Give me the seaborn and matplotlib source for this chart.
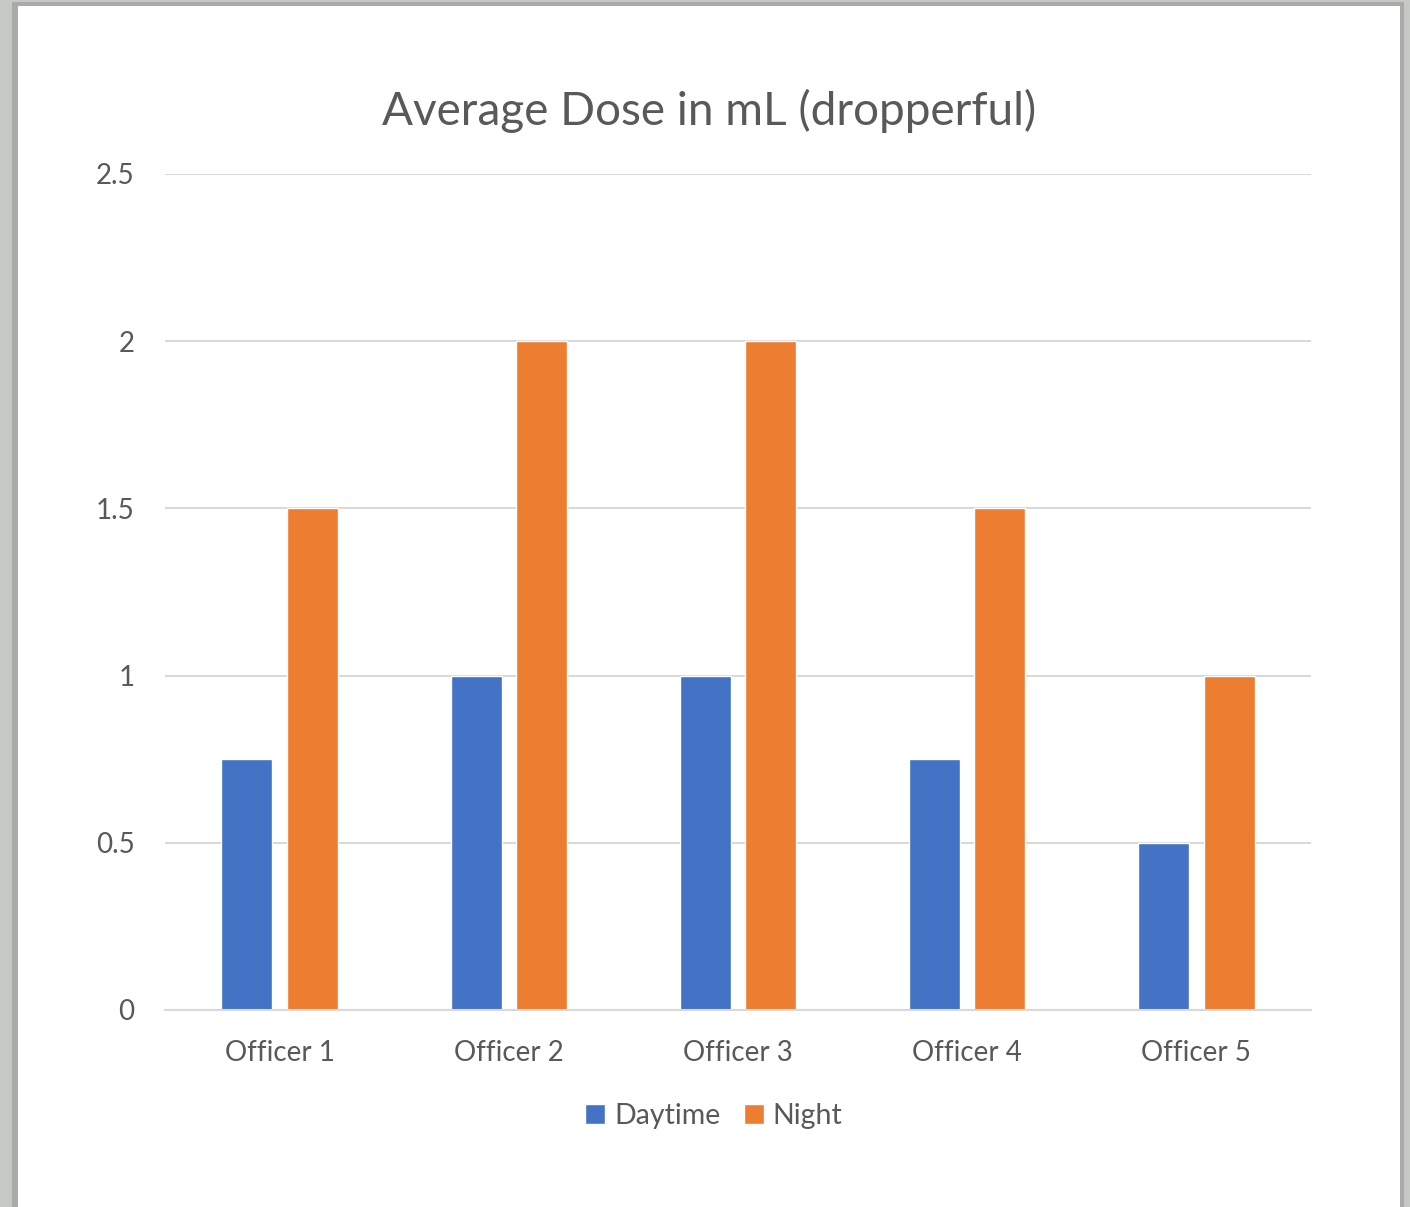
import numpy as np
import pandas as pd
import seaborn as sns
import matplotlib.pyplot as plt
from matplotlib.patches import Rectangle

officers = ['Officer 1', 'Officer 2', 'Officer 3', 'Officer 4', 'Officer 5']
daytime = [0.75, 1.0, 1.0, 0.75, 0.5]
night = [1.5, 2.0, 2.0, 1.5, 1.0]
series = ['Daytime', 'Night']

df = pd.DataFrame({
    'Officer': officers * 2,
    'Dose': daytime + night,
    'Time': ['Daytime'] * 5 + ['Night'] * 5,
})

sns.set_style('white')
plt.rcParams['font.family'] = ['Lato', 'DejaVu Sans']
text_col = '#595959'

fig = plt.figure(figsize=(14.1, 12.07), dpi=100)
fig.patch.set_facecolor('#c6c8c6')
# white chart sheet with soft shadow edges
fig.patches.append(Rectangle((12 / 1410, 0), 1392 / 1410, 1 - 2 / 1207,
                             transform=fig.transFigure, facecolor='#a9aba9',
                             edgecolor='none', zorder=-2))
fig.patches.append(Rectangle((18 / 1410, 0), 1382 / 1410, 1 - 6 / 1207,
                             transform=fig.transFigure, facecolor='white',
                             edgecolor='none', zorder=-1))

ax = fig.add_axes([165 / 1410, 1 - 1010 / 1207, 1146 / 1410, 836 / 1207])
ax.set_facecolor('none')

sns.barplot(data=df, x='Officer', y='Dose', hue='Time', hue_order=series,
            palette=['#4472C4', '#ED7D31'], width=0.57, gap=0.22,
            saturation=1, ax=ax, legend=True)

ax.set_ylim(0, 2.5)
ax.set_yticks([0, 0.5, 1, 1.5, 2, 2.5])
ax.set_yticklabels(['0', '0.5', '1', '1.5', '2', '2.5'])
ax.yaxis.grid(True, color='#d9d9d9', linewidth=1.5)
ax.set_axisbelow(True)
for s in ['top', 'right', 'left']:
    ax.spines[s].set_visible(False)
ax.spines['bottom'].set_color('#d9d9d9')
ax.spines['bottom'].set_linewidth(1.5)
ax.tick_params(axis='y', length=0, pad=22, labelsize=20, labelcolor=text_col)
ax.tick_params(axis='x', length=0, pad=21.5, labelsize=20, labelcolor=text_col)
ax.set_xlabel('')
ax.set_ylabel('')

fig.text(709 / 1410, 1 - 111 / 1207, 'Average Dose in mL (dropperful)',
         ha='center', va='center', fontsize=33, color=text_col)

h, l = ax.get_legend_handles_labels()
ax.get_legend().remove()
fig.legend(h, l, loc='center', bbox_to_anchor=(714 / 1410, 1 - 1116 / 1207),
           ncol=2, frameon=False, fontsize=20.5, labelcolor=text_col,
           handlelength=0.7, handleheight=0.7, handletextpad=0.3,
           columnspacing=0.85)

fig.savefig('out.png', dpi=100, facecolor=fig.get_facecolor())
